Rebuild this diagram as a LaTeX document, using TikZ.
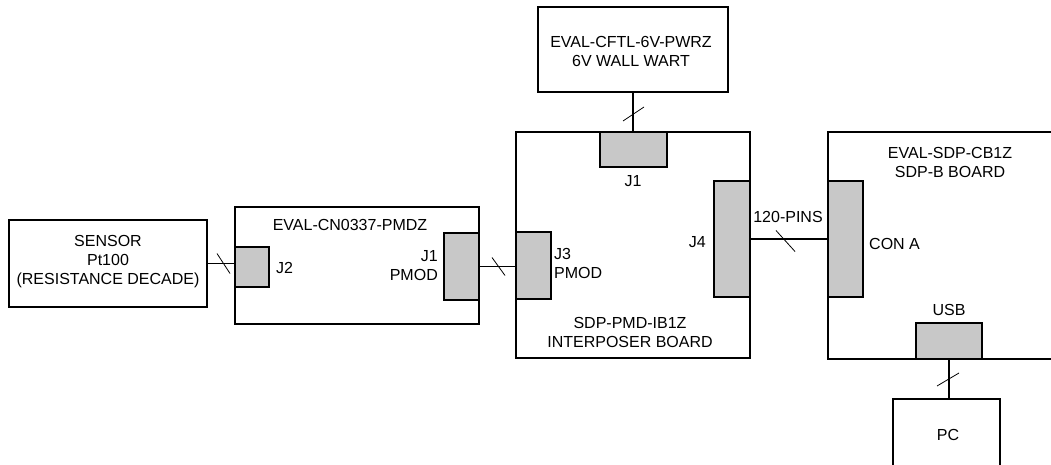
\documentclass[tikz,border=0pt]{standalone}
\usepackage{fontspec}
\setmainfont{Liberation Sans}
\usetikzlibrary{calc}
\definecolor{conngray}{RGB}{200,200,200}
\tikzset{
  box/.style={draw=black, line width=1.3pt, fill=white, inner sep=0pt, outer sep=0pt},
  conn/.style={draw=black, line width=1.3pt, fill=conngray, inner sep=0pt, outer sep=0pt},
  wire/.style={draw=black, line width=1.3pt},
  slash/.style={draw=black, line width=0.8pt},
  lbl/.style={font=\fontsize{16}{19}\selectfont, inner sep=0pt, align=center},
}
\begin{document}
\begin{tikzpicture}[x=1pt,y=-1pt]
\clip (0,0) rectangle (1051,465);
\fill[white] (0,0) rectangle (1051,465);
% boxes
\node[box, minimum width=198pt, minimum height=87pt] (sensor) at (108,263.5) {};
\node[box, minimum width=244pt, minimum height=117pt] (cn) at (357,265.5) {};
\node[box, minimum width=234pt, minimum height=226pt] (ib) at (633,245) {};
\node[box, minimum width=190pt, minimum height=85pt] (wall) at (633,49.5) {};
\node[box, minimum width=242pt, minimum height=227pt] (sdp) at (949,245.5) {};
\node[box, minimum width=107pt, minimum height=72pt] (pc) at (946.5,435) {};
% connectors
\node[conn, minimum width=34pt, minimum height=40pt] (jtwo) at (252,267) {};
\node[conn, minimum width=35pt, minimum height=67pt] (jonep) at (461.5,266.5) {};
\node[conn, minimum width=67pt, minimum height=35pt] (jonet) at (633.5,149.5) {};
\node[conn, minimum width=35pt, minimum height=67pt] (jthree) at (533.5,265.5) {};
\node[conn, minimum width=36pt, minimum height=116pt] (jfour) at (732,239) {};
\node[conn, minimum width=35pt, minimum height=116pt] (cona) at (845.5,239) {};
\node[conn, minimum width=66pt, minimum height=36pt] (usb) at (949,341) {};
% wires
\draw[wire] (sensor.east) -- (jtwo.west |- sensor.east);
\draw[wire] (jonep.east) -- (jthree.west |- jonep.east);
\draw[wire] (wall.south) -- (jonet.north -| wall.south);
\draw[wire] (jfour.east) -- (cona.west);
\draw[wire] (usb.south) -- (usb.south |- pc.north);
% slashes
\draw[slash] ($(sensor.east)!0.5!(jtwo.west |- sensor.east)$) ++(-4,-10) -- ++(13,20);
\draw[slash] ($(jonep.east)!0.5!(jthree.west |- jonep.east)$) ++(-5.5,-9) -- ++(13,18);
\draw[slash] ($(wall.south)!0.5!(jonet.north -| wall.south)$) ++(-10,9) -- ++(21,-14);
\draw[slash] ($(jfour.east)!0.5!(cona.west)$) ++(-13,-8.5) -- ++(19,21);
\draw[slash] ($(usb.south)!0.5!(usb.south |- pc.north)$) ++(-12,7) -- ++(22,-13);
% labels
\node[lbl] (tsensor) at (108,262) {SENSOR\\Pt100\\(RESISTANCE DECADE)};
\node[lbl] (tcn) at (350,225) {EVAL-CN0337-PMDZ};
\node[lbl, anchor=west] (tjtwo) at (276,268) {J2};
\node[lbl, anchor=east, align=right] (tjonep) at (438,265.5) {J1\\PMOD};
\node[lbl] (twall) at (631,51.5) {EVAL-CFTL-6V-PWRZ\\6V WALL WART};
\node[lbl] (tjonet) at (633,181) {J1};
\node[lbl, anchor=west, align=left] (tjthree) at (554,263) {J3\\PMOD};
\node[lbl, anchor=east] (tjfour) at (706,242) {J4};
\node[lbl] (tib) at (630,332) {SDP-PMD-IB1Z\\INTERPOSER BOARD};
\node[lbl] (tpins) at (788,217) {120-PINS};
\node[lbl, anchor=west] (tcona) at (869,244) {CON A};
\node[lbl] (tsdp) at (950,162.5) {EVAL-SDP-CB1Z\\SDP-B BOARD};
\node[lbl] (tusb) at (949,310) {USB};
\node[lbl] (tpc) at (948,435) {PC};
\end{tikzpicture}
\end{document}
